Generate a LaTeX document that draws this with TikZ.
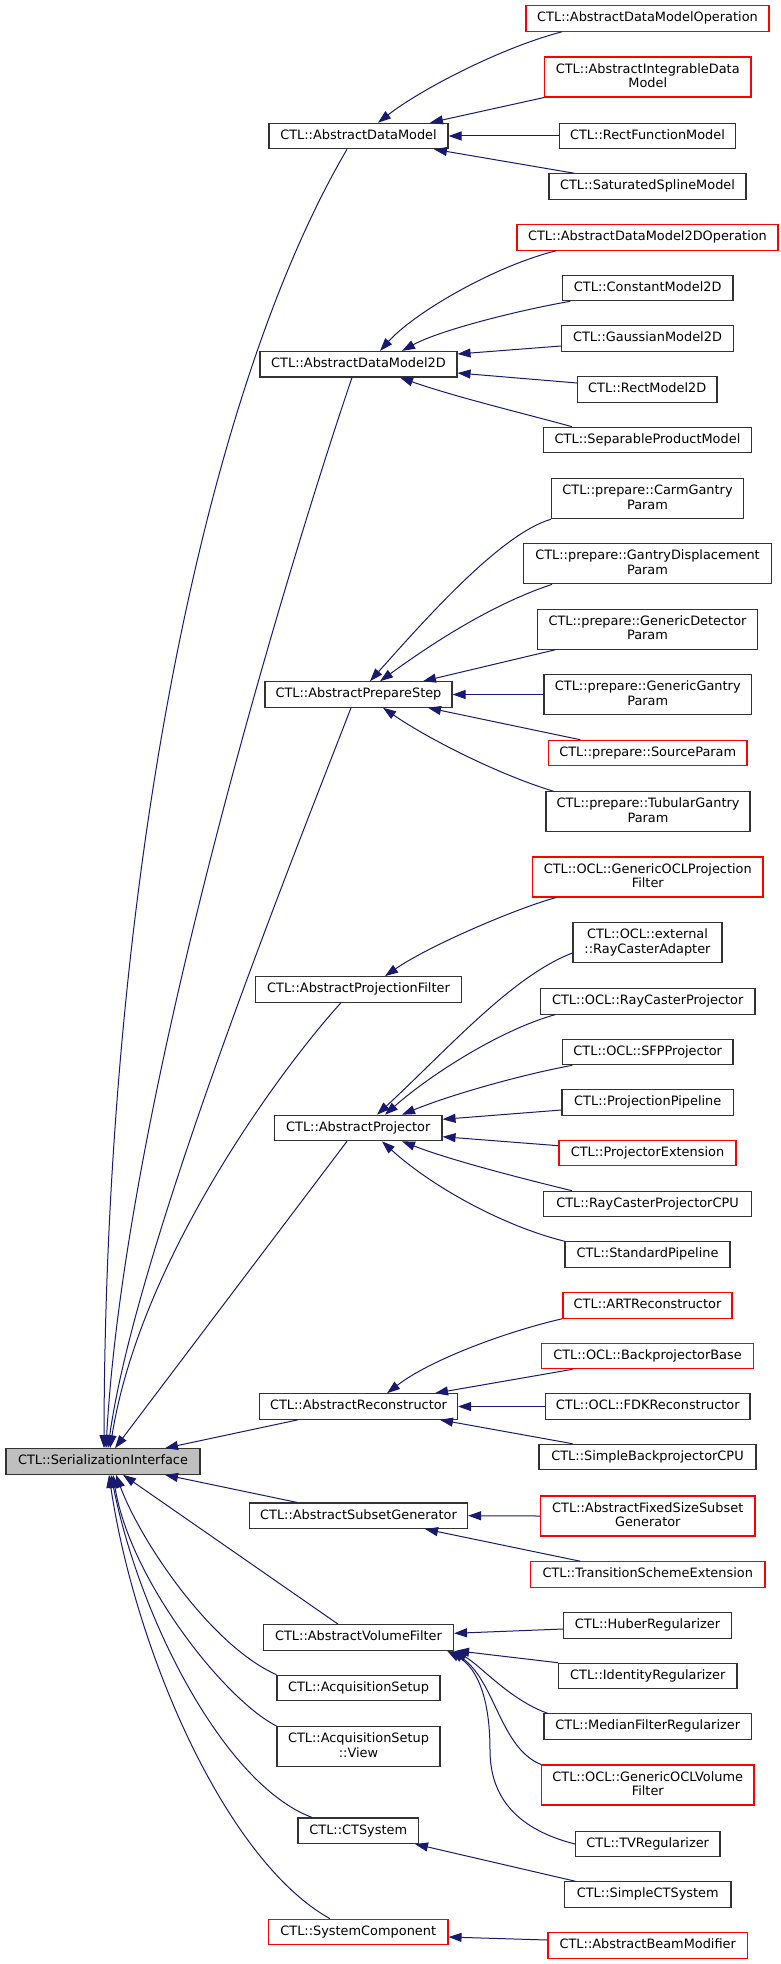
\documentclass[tikz,border=0pt]{standalone}
\usepackage{fontspec}
\setmainfont{DejaVu Sans}
\usetikzlibrary{arrows.meta}
\definecolor{edgeblue}{HTML}{191970}
\definecolor{boxgray}{HTML}{BFBFBF}
\newcommand\sv{\rule[-3pt]{0pt}{12.8pt}}
\newcommand\fs{\fontsize{12.9}{14.5}\selectfont}
\tikzset{
  box/.style={draw=black!80, line width=1.1pt, fill=white, inner sep=0pt, minimum height=25.5pt, font=\fs, align=center},
  rbox/.style={box, draw=red},
  dbl/.style={minimum height=40pt},
  inh/.style={draw=edgeblue, line width=1pt, -{Triangle[length=13pt,width=9pt]}},
}
\begin{document}
\begin{tikzpicture}[x=1pt,y=-1pt]
\useasboundingbox (0,0) rectangle (781,1964);
% left
\node[box, fill=boxgray, minimum width=194pt] (SI) at (103,1461.5) {\sv CTL::SerializationInterface};
% middle column
\node[box, minimum width=179pt] (ADM) at (358.5,136) {\sv CTL::AbstractDataModel};
\node[box, minimum width=197pt] (ADM2D) at (358.5,364.2) {\sv CTL::AbstractDataModel2D};
\node[box, minimum width=187pt] (APS) at (358.5,694.5) {\sv CTL::AbstractPrepareStep};
\node[box, minimum width=206pt] (APF) at (358.5,989.4) {\sv CTL::AbstractProjectionFilter};
\node[box, minimum width=167.5pt] (AP) at (358.25,1128) {\sv CTL::AbstractProjector};
\node[box, minimum width=198pt] (AR) at (358.5,1406.5) {\sv CTL::AbstractReconstructor};
\node[box, minimum width=218pt] (ASG) at (358.5,1515.7) {\sv CTL::AbstractSubsetGenerator};
\node[box, minimum width=190pt] (AVF) at (358.5,1637.4) {\sv CTL::AbstractVolumeFilter};
\node[box, minimum width=163pt] (AS) at (358.5,1688) {\sv CTL::AcquisitionSetup};
\node[box, dbl, minimum width=163pt] (ASV) at (358.5,1746.5) {\sv CTL::AcquisitionSetup\\\sv ::View};
\node[box, minimum width=120.5pt] (CTS) at (358.25,1830.7) {\sv CTL::CTSystem};
\node[rbox, minimum width=179.5pt] (SC) at (358.25,1932) {\sv CTL::SystemComponent};
% right column
\node[rbox, minimum width=243pt] (ADMOp) at (647.5,18.5) {\sv CTL::AbstractDataModelOperation};
\node[rbox, dbl, minimum width=206.5pt] (AIDM) at (647.75,77) {\sv CTL::AbstractIntegrableData\\\sv Model};
\node[box, minimum width=176pt] (RFM) at (647.5,136) {\sv CTL::RectFunctionModel};
\node[box, minimum width=197pt] (SSM) at (647.5,186.5) {\sv CTL::SaturatedSplineModel};
\node[rbox, minimum width=261pt] (ADM2DOp) at (647.5,237.5) {\sv CTL::AbstractDataModel2DOperation};
\node[box, minimum width=170.5pt] (CM2D) at (647.75,288) {\sv CTL::ConstantModel2D};
\node[box, minimum width=172pt] (GM2D) at (647.5,338.5) {\sv CTL::GaussianModel2D};
\node[box, minimum width=139.5pt] (RM2D) at (647.25,389.3) {\sv CTL::RectModel2D};
\node[box, minimum width=208pt] (SPM) at (647.5,440) {\sv CTL::SeparableProductModel};
\node[box, dbl, minimum width=192pt] (Carm) at (647.5,498.7) {\sv CTL::prepare::CarmGantry\\\sv Param};
\node[box, dbl, minimum width=248pt] (GDisp) at (647.5,563.8) {\sv CTL::prepare::GantryDisplacement\\\sv Param};
\node[box, dbl, minimum width=220pt] (GDet) at (647.5,629.3) {\sv CTL::prepare::GenericDetector\\\sv Param};
\node[box, dbl, minimum width=207.5pt] (GGan) at (647.75,694.5) {\sv CTL::prepare::GenericGantry\\\sv Param};
\node[rbox, minimum width=198.5pt] (SrcP) at (647.75,753) {\sv CTL::prepare::SourceParam};
\node[box, dbl, minimum width=204pt] (Tub) at (648,811.8) {\sv CTL::prepare::TubularGantry\\\sv Param};
\node[rbox, dbl, minimum width=230.5pt] (GOPF) at (647.75,877) {\sv CTL::OCL::GenericOCLProjection\\\sv Filter};
\node[box, dbl, minimum width=149pt] (RCA) at (647.5,942.7) {\sv CTL::OCL::external\\\sv ::RayCasterAdapter};
\node[box, minimum width=214.5pt] (ORCP) at (647.75,1001.3) {\sv CTL::OCL::RayCasterProjector};
\node[box, minimum width=170.5pt] (SFP) at (647.75,1052) {\sv CTL::OCL::SFPProjector};
\node[box, minimum width=171.5pt] (PP) at (647.75,1102.5) {\sv CTL::ProjectionPipeline};
\node[rbox, minimum width=177pt] (PE) at (647.5,1153) {\sv CTL::ProjectorExtension};
\node[box, minimum width=208pt] (RCPCPU) at (647.5,1204) {\sv CTL::RayCasterProjectorCPU};
\node[box, minimum width=165pt] (SP) at (647.5,1254.5) {\sv CTL::StandardPipeline};
\node[rbox, minimum width=169pt] (ART) at (647.5,1305.5) {\sv CTL::ARTReconstructor};
\node[rbox, minimum width=212pt] (BPB) at (647.5,1356) {\sv CTL::OCL::BackprojectorBase};
\node[box, minimum width=204.5pt] (FDK) at (647.75,1406.5) {\sv CTL::OCL::FDKReconstructor};
\node[box, minimum width=217pt] (SBP) at (647.5,1457) {\sv CTL::SimpleBackprojectorCPU};
\node[rbox, dbl, minimum width=214.5pt] (AFS) at (647.75,1516) {\sv CTL::AbstractFixedSizeSubset\\\sv Generator};
\node[rbox, minimum width=234.5pt] (TSE) at (647.75,1574.5) {\sv CTL::TransitionSchemeExtension};
\node[box, minimum width=168pt] (HUB) at (647.5,1625.5) {\sv CTL::HuberRegularizer};
\node[box, minimum width=178.5pt] (IDR) at (647.75,1676) {\sv CTL::IdentityRegularizer};
\node[box, minimum width=207.5pt] (MED) at (647.75,1726.5) {\sv CTL::MedianFilterRegularizer};
\node[rbox, dbl, minimum width=212.5pt] (GOVF) at (647.75,1785) {\sv CTL::OCL::GenericOCLVolume\\\sv Filter};
\node[box, minimum width=144.5pt] (TVR) at (647.75,1844) {\sv CTL::TVRegularizer};
\node[box, minimum width=166.5pt] (SCTS) at (647.75,1894.5) {\sv CTL::SimpleCTSystem};
\node[rbox, minimum width=199.5pt] (ABM) at (647.75,1945.5) {\sv CTL::AbstractBeamModifier};

% ---- edges to AbstractDataModel
\draw[inh] ([xshift=-85.5pt]ADMOp.south) .. controls (500,48) and (420,90) .. ([xshift=19.5pt]ADM.north);
\draw[inh] (AIDM.south west) -- ([xshift=71.5pt]ADM.north);
\draw[inh] (RFM.west) -- (ADM.east);
\draw[inh] ([xshift=-73.5pt]SSM.north) -- ([xshift=75.5pt]ADM.south);
% ---- edges to AbstractDataModel2D
\draw[inh] ([xshift=-91.5pt]ADM2DOp.south) .. controls (495,266) and (415,312) .. ([xshift=21.5pt]ADM2D.north);
\draw[inh] ([xshift=-77.5pt]CM2D.south) .. controls (520,310) and (440,330) .. ([xshift=43.5pt]ADM2D.north);
\draw[inh] ([yshift=-7.5pt]GM2D.west) -- ([yshift=10.2pt]ADM2D.east);
\draw[inh] ([yshift=6.3pt]RM2D.west) -- ([yshift=-8.8pt]ADM2D.east);
\draw[inh] ([xshift=-75.5pt]SPM.north) .. controls (530,415) and (455,397) .. ([xshift=41.5pt]ADM2D.south);
% ---- edges to AbstractPrepareStep
\draw[inh] (Carm.south west) .. controls (500,534) and (423,622) .. ([xshift=11.5pt]APS.north);
\draw[inh] ([xshift=-95.5pt]GDisp.south) .. controls (490,605) and (430,645) .. ([xshift=21.5pt]APS.north);
\draw[inh] ([xshift=-92.5pt]GDet.south) -- ([xshift=64.5pt]APS.north);
\draw[inh] (GGan.west) -- (APS.east);
\draw[inh] ([xshift=-67.5pt]SrcP.north) -- ([xshift=69.5pt]APS.south);
\draw[inh] ([xshift=-94.5pt]Tub.north) .. controls (500,775) and (430,740) .. ([xshift=24.5pt]APS.south);
% ---- edges to AbstractProjectionFilter
\draw[inh] ([xshift=-91.5pt]GOPF.south) .. controls (520,907) and (430,945) .. ([xshift=26.5pt]APF.north);
% ---- edges to AbstractProjector
\draw[inh] ([yshift=-10.3pt]RCA.west) .. controls (512,976) and (447,1050) .. ([xshift=18.75pt]AP.north);
\draw[inh] ([xshift=-92.5pt]ORCP.south) .. controls (500,1030) and (430,1075) .. ([xshift=26.75pt]AP.north);
\draw[inh] ([xshift=-75.5pt]SFP.south) .. controls (520,1075) and (450,1095) .. ([xshift=43.75pt]AP.north);
\draw[inh] ([yshift=-7.5pt]PP.west) -- ([yshift=8.7pt]AP.east);
\draw[inh] ([yshift=7.3pt]PE.west) -- ([yshift=-8.7pt]AP.east);
\draw[inh] ([xshift=-75.5pt]RCPCPU.north) .. controls (520,1178) and (450,1160) .. ([xshift=43.75pt]AP.south);
\draw[inh] (SP.north west) .. controls (500,1225) and (430,1185) .. ([xshift=23.75pt]AP.south);
% ---- edges to AbstractReconstructor
\draw[inh] ([xshift=-85.5pt]ART.south) .. controls (505,1332) and (430,1360) .. ([xshift=28.5pt]AR.north);
\draw[inh] ([xshift=-75pt]BPB.south) -- ([xshift=76.5pt]AR.north);
\draw[inh] (FDK.west) -- (AR.east);
\draw[inh] ([xshift=-75pt]SBP.north) -- ([xshift=81.5pt]AR.south);
% ---- edges to AbstractSubsetGenerator
\draw[inh] (AFS.west) -- (ASG.east);
\draw[inh] ([xshift=-67.5pt]TSE.north) -- ([xshift=66.5pt]ASG.south);
% ---- edges to AbstractVolumeFilter
\draw[inh] ([yshift=-3.5pt]HUB.west) -- ([yshift=4.1pt]AVF.east);
\draw[inh] (IDR.north west) -- ([xshift=2pt]AVF.south east);
\draw[inh] ([xshift=4pt]MED.north west) .. controls (510,1700) and (480,1665) .. ([xshift=0pt]AVF.south east);
\draw[inh] (GOVF.north west) .. controls (500,1748) and (495,1680) .. ([xshift=-3pt]AVF.south east);
\draw[inh] (TVR.west) .. controls (520,1830) and (490,1800) .. (490,1750) .. controls (490,1700) and (478,1668) .. ([xshift=-7pt]AVF.south east);
% ---- edges to CTSystem and SystemComponent
\draw[inh] ([xshift=-72.5pt]SCTS.north) -- ([xshift=56.75pt]CTS.south);
\draw[inh] ([yshift=5.5pt]ABM.west) -- ([yshift=-5pt]SC.east);
% ---- edges to SerializationInterface
\draw[inh] ([xshift=-11.5pt]ADM.south) .. controls (200,400) and (105,900) .. ([xshift=1pt]SI.north);
\draw[inh] ([xshift=-6.5pt]ADM2D.south) .. controls (290,560) and (125,1100) .. ([xshift=3pt]SI.north);
\draw[inh] ([xshift=-7.5pt]APS.south) .. controls (300,840) and (135,1250) .. ([xshift=5pt]SI.north);
\draw[inh] ([xshift=-17.5pt]APF.south) .. controls (280,1070) and (140,1260) .. ([xshift=7pt]SI.north);
\draw[inh] ([xshift=-11.25pt]AP.south) -- ([xshift=12pt]SI.north);
\draw[inh] ([xshift=-60.5pt]AR.south) -- ([xshift=62pt]SI.north);
\draw[inh] ([xshift=-61.5pt]ASG.north) -- ([xshift=62pt]SI.south);
\draw[inh] ([xshift=-20.5pt]AVF.north) -- ([xshift=20pt]SI.south);
\draw[inh] (AS.north west) .. controls (210,1645) and (140,1540) .. ([xshift=13pt]SI.south);
\draw[inh] (ASV.north west) .. controls (225,1700) and (130,1580) .. ([xshift=10pt]SI.south);
\draw[inh] ([xshift=-46.25pt]CTS.north) .. controls (225,1785) and (140,1620) .. ([xshift=8pt]SI.south);
\draw[inh] ([xshift=-28.25pt]SC.north) .. controls (225,1860) and (135,1650) .. ([xshift=6pt]SI.south);
\end{tikzpicture}
\end{document}
